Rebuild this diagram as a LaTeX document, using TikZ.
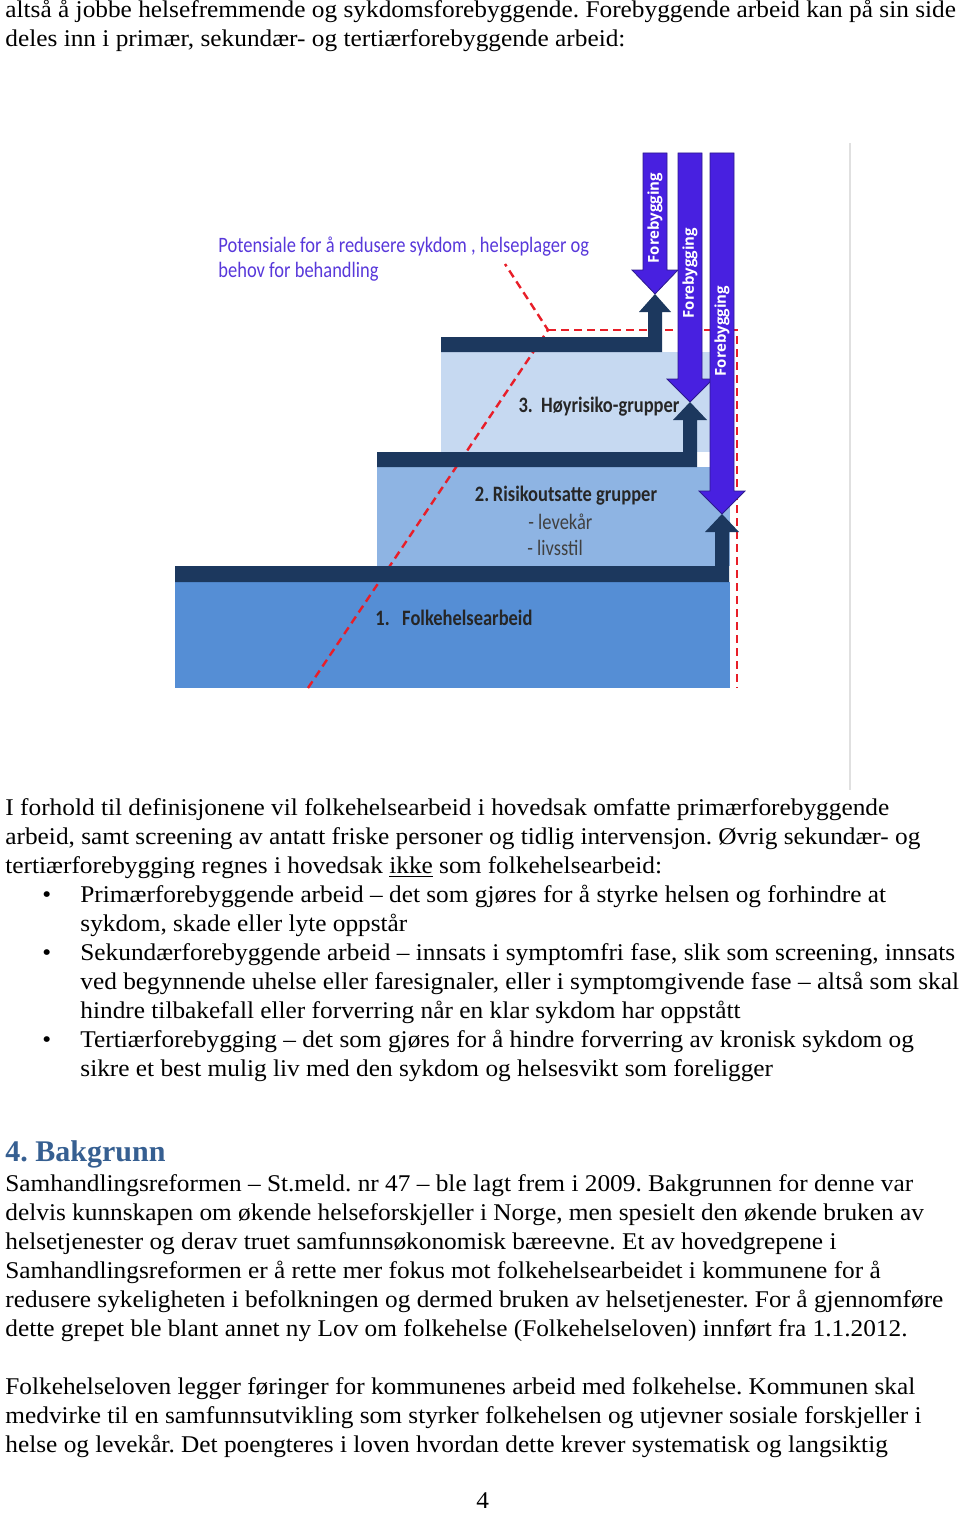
\documentclass[tikz,border=0pt]{standalone}
\usepackage{fontspec}
\setmainfont{Liberation Serif}[FakeStretch=1.055]
\newfontfamily\headfont{Liberation Serif}
\newfontfamily\diafont{Carlito}[FakeStretch=0.84]
\newfontfamily\arrowfont{Open Sans}
\usetikzlibrary{positioning}
\frenchspacing

\definecolor{stepone}{RGB}{85,142,213}
\definecolor{steptwo}{RGB}{142,180,227}
\definecolor{stepthree}{RGB}{198,217,241}
\definecolor{stepdark}{RGB}{28,56,94}
\definecolor{prevblue}{RGB}{72,32,224}
\definecolor{prevedge}{RGB}{44,26,140}
\definecolor{potred}{RGB}{232,30,40}
\definecolor{potblue}{RGB}{88,56,218}
\definecolor{headblue}{RGB}{54,95,145}

\tikzset{
  body/.style={anchor=base west, inner sep=0pt, font=\fontsize{12}{14.5}\selectfont},
  steplabel/.style={inner sep=0pt, font=\diafont\bfseries\fontsize{11}{13}\selectfont, text=black!85},
  sublabel/.style={anchor=west, inner sep=0pt, font=\diafont\fontsize{11}{13}\selectfont, text=black!75},
  prevarrow/.style={fill=prevblue, draw=prevedge, line width=0.4pt},
  prevtext/.style={rotate=90, inner sep=0pt, text=white, font=\arrowfont\bfseries\fontsize{7.5}{9}\selectfont},
  stairs/.style={fill=stepdark},
  potline/.style={draw=potred, line width=1.2pt, dash pattern=on 4pt off 2.5pt}
}

\begin{document}
\begin{tikzpicture}[x=0.5pt, y=-0.5pt]
  \useasboundingbox (0,0) rectangle (960,1514);

  % text above the figure
  \node[body] (top1) at (5,18) {altså å jobbe helsefremmende og sykdomsforebyggende. Forebyggende arbeid kan på sin side};
  \node[body] (top2) at ([yshift=-14.5pt]top1.base west) {deles inn i primær, sekundær- og tertiærforebyggende arbeid:};

  % steps
  \fill[stepone]   (175,582) rectangle (730,688);
  \fill[steptwo]   (377,467) rectangle (730,566);
  \fill[stepthree] (441,352) rectangle (712,452);

  % potential line
  \draw[potline] (308,688) -- (548,330) -- (505,264);
  \draw[potline] (548,330) -- (737,330) -- (737,688);

  % dark stairs with arrows up
  \fill[stairs] (441,337) -- (648,337) -- (648,312) -- (639,312) -- (655,294) -- (671,312) -- (662,312) -- (662,352) -- (441,352) -- cycle;
  \fill[stairs] (377,452) -- (683,452) -- (683,420) -- (673,420) -- (690,402) -- (707,420) -- (697,420) -- (697,467) -- (377,467) -- cycle;
  \fill[stairs] (175,566) -- (715,566) -- (715,532) -- (705,532) -- (722,514) -- (739,532) -- (729,532) -- (729,582) -- (175,582) -- cycle;

  % prevention arrows
  \draw[prevarrow] (643,153) -- (667,153) -- (667,270) -- (678,270) -- (655,294) -- (632,270) -- (643,270) -- cycle;
  \draw[prevarrow] (678,153) -- (702,153) -- (702,379) -- (713,379) -- (690,402) -- (667,379) -- (678,379) -- cycle;
  \draw[prevarrow] (710,153) -- (734,153) -- (734,491) -- (745,491) -- (722,514) -- (699,491) -- (710,491) -- cycle;
  \node[prevtext] (prevA) at (655,218) {Forebygging};
  \node[prevtext] (prevB) at (690,273) {Forebygging};
  \node[prevtext] (prevC) at (722,331) {Forebygging};

  % labels
  \node[sublabel, text=potblue] (pot1) at (218,247) {Potensiale for å redusere sykdom , helseplager og};
  \node[sublabel, text=potblue] (pot2) at (218,272) {behov for behandling};
  \node[steplabel] (lvl3) at (599,407) {3.\ \ Høyrisiko-grupper};
  \node[steplabel] (lvl2) at (566,496) {2.\,Risikoutsatte grupper};
  \node[sublabel] (lvl2a) at (528,522) {- levekår};
  \node[sublabel] (lvl2b) at (527,548) {- livsstil};
  \node[steplabel, anchor=west] (lvl1) at (375,618) {1.\ \ \ Folkehelsearbeid};

  \draw[black!12, line width=0.6pt] (850,143) -- (850,790);

  % text below the figure
  \node[body] (par1) at (5,815) {I forhold til definisjonene vil folkehelsearbeid i hovedsak omfatte primærforebyggende};
  \node[body] (par2) at ([yshift=-14.5pt]par1.base west) {arbeid, samt screening av antatt friske personer og tidlig intervensjon. Øvrig sekundær- og};
  \node[body] (par3) at ([yshift=-14.5pt]par2.base west) {tertiærforebygging regnes i hovedsak \underline{ikke} som folkehelsearbeid:};

  \node[body] (b1)  at (80,902) {Primærforebyggende arbeid – det som gjøres for å styrke helsen og forhindre at};
  \node[body] (b1b) at ([yshift=-14.5pt]b1.base west) {sykdom, skade eller lyte oppstår};
  \node[body] (b2)  at ([yshift=-14.5pt]b1b.base west) {Sekundærforebyggende arbeid – innsats i symptomfri fase, slik som screening, innsats};
  \node[body] (b2b) at ([yshift=-14.5pt]b2.base west) {ved begynnende uhelse eller faresignaler, eller i symptomgivende fase – altså som skal};
  \node[body] (b2c) at ([yshift=-14.5pt]b2b.base west) {hindre tilbakefall eller forverring når en klar sykdom har oppstått};
  \node[body] (b3)  at ([yshift=-14.5pt]b2c.base west) {Tertiærforebygging – det som gjøres for å hindre forverring av kronisk sykdom og};
  \node[body] (b3b) at ([yshift=-14.5pt]b3.base west) {sikre et best mulig liv med den sykdom og helsesvikt som foreligger};
  \node[body] (dot1) at (42,902) {•};
  \node[body] (dot2) at (42,960) {•};
  \node[body] (dot3) at (42,1047) {•};

  \node[body, font=\headfont\bfseries\fontsize{15}{17}\selectfont, text=headblue] (head) at (5,1161) {4. Bakgrunn};

  \node[body] (bak1) at (5,1191) {Samhandlingsreformen – St.meld. nr 47 – ble lagt frem i 2009. Bakgrunnen for denne var};
  \node[body] (bak2) at ([yshift=-14.5pt]bak1.base west) {delvis kunnskapen om økende helseforskjeller i Norge, men spesielt den økende bruken av};
  \node[body] (bak3) at ([yshift=-14.5pt]bak2.base west) {helsetjenester og derav truet samfunnsøkonomisk bæreevne. Et av hovedgrepene i};
  \node[body] (bak4) at ([yshift=-14.5pt]bak3.base west) {Samhandlingsreformen er å rette mer fokus mot folkehelsearbeidet i kommunene for å};
  \node[body] (bak5) at ([yshift=-14.5pt]bak4.base west) {redusere sykeligheten i befolkningen og dermed bruken av helsetjenester. For å gjennomføre};
  \node[body] (bak6) at ([yshift=-14.5pt]bak5.base west) {dette grepet ble blant annet ny Lov om folkehelse (Folkehelseloven) innført fra 1.1.2012.};

  \node[body] (law1) at (5,1394) {Folkehelseloven legger føringer for kommunenes arbeid med folkehelse. Kommunen skal};
  \node[body] (law2) at ([yshift=-14.5pt]law1.base west) {medvirke til en samfunnsutvikling som styrker folkehelsen og utjevner sosiale forskjeller i};
  \node[body] (law3) at ([yshift=-14.5pt]law2.base west) {helse og levekår. Det poengteres i loven hvordan dette krever systematisk og langsiktig};

  \node[body] (pageno) at (476,1508) {4};
\end{tikzpicture}
\end{document}
